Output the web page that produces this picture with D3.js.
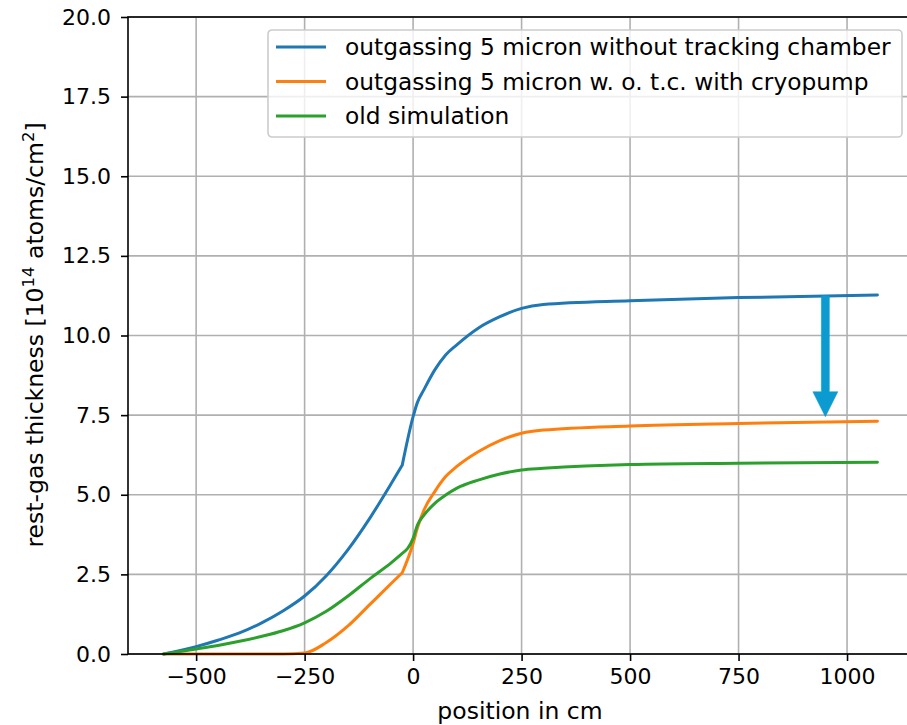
<!DOCTYPE html>
<html lang="en">
<head>
<meta charset="utf-8">
<title>rest-gas thickness</title>
<script src="https://cdn.jsdelivr.net/npm/d3@7"></script>
<style>
  body { margin: 0; padding: 0; background: #fff; overflow: hidden; }
  text { font-family: "DejaVu Sans", sans-serif; fill: #000; }
  .grid line { stroke: #b0b0b0; stroke-width: 1.6px; }
  .series { fill: none; stroke-width: 3px; stroke-linejoin: round; stroke-linecap: round; }
</style>
</head>
<body>
<script>
// positions in cm
var xs = [-575, -500, -450, -400, -350, -300, -250, -200, -150, -100, -50, -25, 0, 10, 25, 50, 75, 100, 150, 200, 250, 300, 500, 750, 1070];
// rest-gas thickness, 10^14 atoms/cm^2
var blue   = [0, 0.23, 0.43, 0.66, 0.97, 1.35, 1.82, 2.46, 3.28, 4.26, 5.36, 5.93, 7.45, 7.9, 8.3, 8.92, 9.39, 9.70, 10.23, 10.59, 10.85, 10.97, 11.09, 11.19, 11.27];
var orange = [0, 0, 0, 0, 0, 0, 0.03, 0.36, 0.88, 1.55, 2.22, 2.55, 3.47, 3.96, 4.52, 5.10, 5.57, 5.88, 6.35, 6.70, 6.93, 7.03, 7.16, 7.24, 7.31];
var green  = [0, 0.16, 0.27, 0.40, 0.55, 0.73, 0.98, 1.34, 1.82, 2.36, 2.87, 3.16, 3.63, 4.05, 4.36, 4.73, 4.99, 5.20, 5.46, 5.65, 5.78, 5.83, 5.95, 5.99, 6.02];
var names = ["outgassing 5 micron without tracking chamber",
             "outgassing 5 micron w. o. t.c. with cryopump",
             "old simulation"];
var colors = ["#1f77b4", "#ff7f0e", "#2ca02c"];
var xTicks = [-500, -250, 0, 250, 500, 750, 1000];
var yTicks = [0, 2.5, 5, 7.5, 10, 12.5, 15, 17.5, 20];
// the curves have a corner here
var kinkX = -25;
// arrow: x position, from, to
var arrowX = 950, arrowFrom = 11.25, arrowTo = 7.45;

var W = 907, H = 725;
var mLeft = 128, mTop = 17, mBottom = 654, mRight = 913;

var svg = d3.select('body').append('svg')
    .attr('width', W)
    .attr('height', H);

var x = d3.scaleLinear().domain([-657, 1152]).range([mLeft, mRight]);
var y = d3.scaleLinear().domain([0, 20]).range([mBottom, mTop]);

// grid
var grid = svg.append('g').attr('class', 'grid');
grid.selectAll('.gx').data(xTicks).enter().append('line')
    .attr('x1', d => x(d)).attr('x2', d => x(d))
    .attr('y1', mTop).attr('y2', mBottom);
grid.selectAll('.gy').data(yTicks).enter().append('line')
    .attr('x1', mLeft).attr('x2', mRight)
    .attr('y1', d => y(d)).attr('y2', d => y(d));

// lines, smooth on both sides of the corner
var line = d3.line()
    .x(d => x(d[0]))
    .y(d => y(d[1]))
    .curve(d3.curveMonotoneX);

[blue, orange, green].forEach(function(vals, i) {
  var pts = xs.map((v, j) => [v, vals[j]]);
  var a = pts.filter(p => p[0] <= kinkX);
  var b = pts.filter(p => p[0] >= kinkX);
  svg.append('path')
    .attr('class', 'series')
    .attr('stroke', colors[i])
    .attr('d', line(a) + line(b));
});

// arrow
var ax = x(arrowX), shaftW = 8, headW = 25, headH = 25;
var yTop = y(arrowFrom), yTip = y(arrowTo);
svg.append('path')
  .attr('fill', '#0b9bd0')
  .attr('stroke', '#0b9bd0')
  .attr('stroke-width', 0.5)
  .attr('d', 'M' + (ax - shaftW / 2) + ',' + yTop +
             'L' + (ax + shaftW / 2) + ',' + yTop +
             'L' + (ax + shaftW / 2) + ',' + (yTip - headH) +
             'L' + (ax + headW / 2) + ',' + (yTip - headH) +
             'L' + ax + ',' + yTip +
             'L' + (ax - headW / 2) + ',' + (yTip - headH) +
             'L' + (ax - shaftW / 2) + ',' + (yTip - headH) + 'Z');

// axes
var xAxis = svg.append('g')
  .attr('transform', 'translate(0,' + mBottom + ')')
  .call(d3.axisBottom(x).tickValues(xTicks).tickSizeInner(7).tickSizeOuter(0).tickPadding(4)
        .tickFormat(d => d < 0 ? '\u2212' + Math.abs(d) : d));
var yAxis = svg.append('g')
  .attr('transform', 'translate(' + mLeft + ',0)')
  .call(d3.axisLeft(y).tickValues(yTicks).tickSizeInner(7).tickSizeOuter(0).tickPadding(10)
        .tickFormat(d3.format('.1f')));
[xAxis, yAxis].forEach(function(g) {
  g.select('.domain').remove();
  g.selectAll('.tick line').attr('stroke', '#000').attr('stroke-width', 1.6);
  g.selectAll('.tick text').attr('font-size', 22).attr('font-family', '"DejaVu Sans", sans-serif');
});
xAxis.selectAll('.tick text').attr('dy', '0.85em');

// spines
svg.append('rect')
  .attr('x', mLeft).attr('y', mTop)
  .attr('width', mRight - mLeft).attr('height', mBottom - mTop)
  .attr('fill', 'none').attr('stroke', '#000').attr('stroke-width', 1.6);

// axis labels
svg.append('text')
  .attr('x', 520).attr('y', 719)
  .attr('text-anchor', 'middle').attr('font-size', 23.5)
  .text('position in cm');

var yl = svg.append('text')
  .attr('transform', 'translate(43,335) rotate(-90)')
  .attr('text-anchor', 'middle').attr('font-size', 23.5);
yl.append('tspan').text('rest-gas thickness [10');
yl.append('tspan').attr('font-size', 16.5).attr('dy', -9).text('14');
yl.append('tspan').attr('dy', 9).text(' atoms/cm');
yl.append('tspan').attr('font-size', 16.5).attr('dy', -9).text('2');
yl.append('tspan').attr('dy', 9).text(']');

// legend
var lg = svg.append('g').attr('transform', 'translate(268,30)');
lg.append('rect')
  .attr('width', 634).attr('height', 107)
  .attr('rx', 4).attr('ry', 4)
  .attr('fill', 'rgba(255,255,255,0.8)')
  .attr('stroke', '#cccccc').attr('stroke-width', 1.6);
names.forEach(function(n, i) {
  var ly = 17 + i * 34.5;
  lg.append('line')
    .attr('x1', 8).attr('x2', 58).attr('y1', ly).attr('y2', ly)
    .attr('stroke', colors[i]).attr('stroke-width', 3);
  lg.append('text')
    .attr('x', 77).attr('y', ly + 8)
    .attr('font-size', 23.3)
    .text(n);
});
</script>
</body>
</html>
